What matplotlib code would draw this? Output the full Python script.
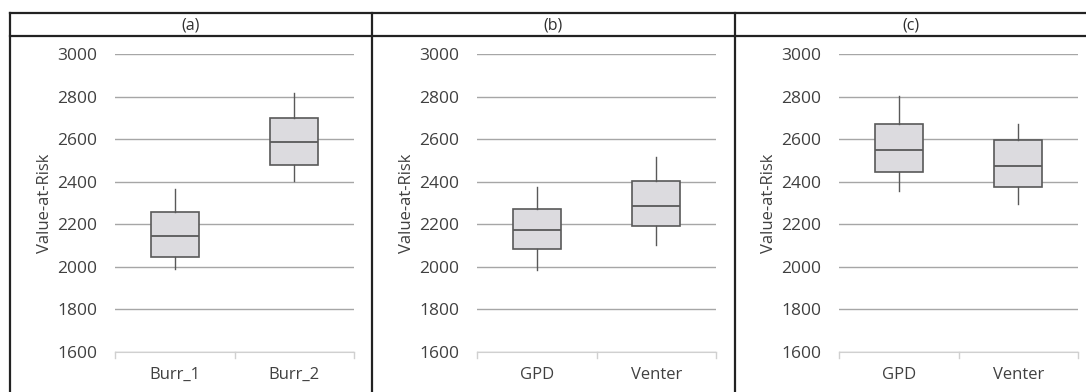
import matplotlib.pyplot as plt
from matplotlib.lines import Line2D

plt.rcParams['font.family'] = ['Open Sans', 'DejaVu Sans']

panel_titles = ["(a)", "(b)", "(c)"]
panel_labels = [["Burr_1", "Burr_2"], ["GPD", "Venter"], ["GPD", "Venter"]]
# whislo, q1, med, q3, whishi for each box
panel_stats = [
    [[1988, 2044, 2146, 2257, 2368], [2404, 2478, 2585, 2701, 2815]],
    [[1984, 2082, 2172, 2273, 2376], [2102, 2191, 2288, 2403, 2517]],
    [[2357, 2447, 2550, 2672, 2804], [2293, 2373, 2476, 2596, 2672]],
]
yticks = [1600, 1800, 2000, 2200, 2400, 2600, 2800, 3000]

W, H = 1086, 392
fig = plt.figure(figsize=(W / 100, H / 100), dpi=100)

axes_left = [115, 477, 839]
axes_w = 239
top_px, bot_px = 54, 352
edge = "#595959"

for i in range(3):
    ax = fig.add_axes([axes_left[i] / W, 1 - bot_px / H, axes_w / W, (bot_px - top_px) / H])
    stats = []
    for lab, s in zip(panel_labels[i], panel_stats[i]):
        stats.append(dict(label=lab, whislo=s[0], q1=s[1], med=s[2], q3=s[3], whishi=s[4]))
    ax.bxp(stats, positions=[0.5, 1.5], widths=0.4, showfliers=False, patch_artist=True,
           boxprops=dict(facecolor="#dcdbdf", edgecolor=edge, linewidth=1.2),
           medianprops=dict(color=edge, linewidth=1.3),
           whiskerprops=dict(color=edge, linewidth=1.0),
           capprops=dict(linewidth=0), zorder=3)
    ax.set_xlim(0, 2)
    ax.set_ylim(1600, 3000)
    ax.set_yticks(yticks)
    ax.set_xticks([0.5, 1.5])
    ax.set_xticklabels(panel_labels[i])
    ax.grid(axis="y", color="#a6a6a6", linewidth=1.0, zorder=0)
    for sp in ["top", "right", "left"]:
        ax.spines[sp].set_visible(False)
    ax.spines["bottom"].set_color("#d0d0d0")
    ax.tick_params(axis="y", length=0, pad=13, labelsize=12.5, labelcolor="#404040")
    ax.tick_params(axis="x", length=0, pad=11, labelsize=12, labelcolor="#404040")
    for xb in [0, 1, 2]:
        ax.plot([xb, xb], [1600, 1572], color="#d0d0d0", lw=1, clip_on=False)
    ax.set_ylabel("Value-at-Risk", fontsize=12, color="#404040", labelpad=3)
    # panel header
    cx = ([10, 372, 735, 1086][i] + [10, 372, 735, 1086][i + 1]) / 2
    fig.text(cx / W, 1 - 25 / H, panel_titles[i], ha="center", va="center",
             fontsize=11.5, color="#303030")

# table borders
def hline(y, x0, x1):
    fig.add_artist(Line2D([x0 / W, x1 / W], [1 - y / H, 1 - y / H], color="#222222", lw=1.6))

def vline(x, y0, y1):
    fig.add_artist(Line2D([x / W, x / W], [1 - y0 / H, 1 - y1 / H], color="#222222", lw=1.6))

hline(13, 10, 1086)
hline(36, 10, 1086)
for xv in [10, 372, 735]:
    vline(xv, 13, 392)

fig.savefig("out.png", dpi=100)
